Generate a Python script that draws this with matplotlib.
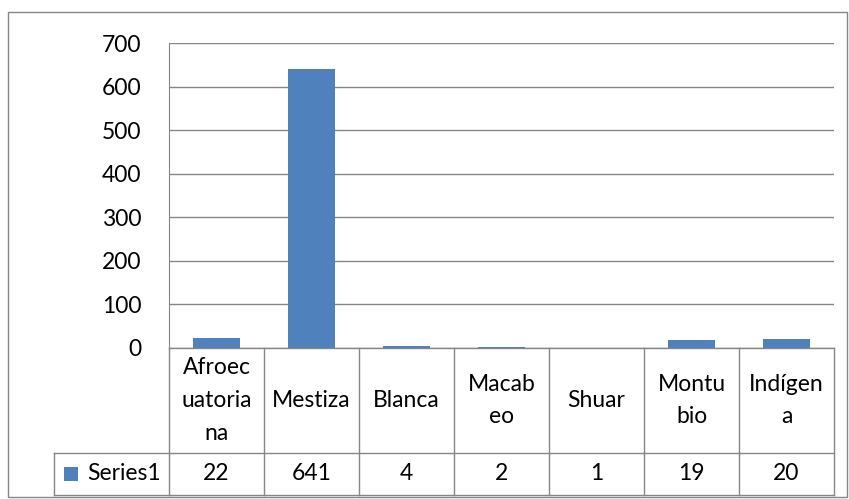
import matplotlib
matplotlib.use("Agg")
import matplotlib.pyplot as plt
from matplotlib.patches import Rectangle
import matplotlib.transforms as mtransforms

categories = ["Afroecuatoriana", "Mestiza", "Blanca", "Macabeo", "Shuar", "Montubio", "Indígena"]
header_labels = ["Afroec\nuatoria\nna", "Mestiza", "Blanca", "Macab\neo", "Shuar", "Montu\nbio", "Indígen\na"]
values = [22, 641, 4, 2, 1, 19, 20]
series_name = "Series1"
yticks = [0, 100, 200, 300, 400, 500, 600, 700]

plt.rcParams['font.family'] = ['Lato', 'DejaVu Sans']
FS = 16.5
W, H = 849, 499
fig = plt.figure(figsize=(W / 100, H / 100), dpi=100)

left, right, top, bottom = 169, 834, 43, 348
ax = fig.add_axes([left / W, 1 - bottom / H, (right - left) / W, (bottom - top) / H])

bar_color = "#4F81BD"
grid_color = "#868686"
x = list(range(len(categories)))
ax.bar(x, values, width=0.5, color=bar_color, zorder=3)
ax.set_xlim(-0.5, len(categories) - 0.5)
ax.set_ylim(0, 700)
ax.set_yticks(yticks)
ax.set_yticklabels([str(t) for t in yticks], fontsize=FS)
ax.tick_params(axis='y', length=0, pad=20)
ax.set_xticks([])
ax.grid(axis='y', color=grid_color, linewidth=1, zorder=0)
for s in ['top', 'right', 'bottom']:
    ax.spines[s].set_visible(False)
ax.spines['left'].set_color(grid_color)

# Data table below
trans = mtransforms.blended_transform_factory(ax.transData, ax.transAxes)
ph = bottom - top
y_hdr = -(453 - bottom) / ph
y_bot = -(495 - bottom) / ph
n = len(categories)
unit = (right - left) / n
x_leg = -0.5 - (left - 54) / unit
lc = grid_color
lw = 1.0
ax.plot([-0.5, n - 0.5], [0, 0], color=lc, lw=lw, transform=trans, clip_on=False, zorder=4)
ax.plot([x_leg, n - 0.5], [y_hdr, y_hdr], color=lc, lw=lw, transform=trans, clip_on=False)
ax.plot([x_leg, n - 0.5], [y_bot, y_bot], color=lc, lw=lw, transform=trans, clip_on=False)
for i in range(n + 1):
    ax.plot([i - 0.5, i - 0.5], [0, y_bot], color=lc, lw=lw, transform=trans, clip_on=False)
ax.plot([x_leg, x_leg], [y_hdr, y_bot], color=lc, lw=lw, transform=trans, clip_on=False)

for i, lab in enumerate(header_labels):
    ax.text(i, y_hdr / 2, lab, ha='center', va='center', fontsize=FS, linespacing=1.68,
            transform=trans, clip_on=False)
    ax.text(i, (y_hdr + y_bot) / 2, str(values[i]), ha='center', va='center', fontsize=FS,
            transform=trans, clip_on=False)

ymid = (y_hdr + y_bot) / 2
ax.text(-0.5 - 8 / unit, ymid, series_name, ha='right', va='center', fontsize=FS,
        transform=trans, clip_on=False)
key_x0 = x_leg + 10 / unit
ax.add_patch(Rectangle((key_x0, ymid - 7 / ph), 14 / unit, 14 / ph,
                       facecolor=bar_color, edgecolor='none', transform=trans, clip_on=False))

fig.add_artist(Rectangle((8 / W, 1 - 497 / H), (847 - 8) / W, (497 - 12) / H,
                         transform=fig.transFigure, fill=False, edgecolor=grid_color, lw=1))

fig.savefig("out.png", dpi=100)
